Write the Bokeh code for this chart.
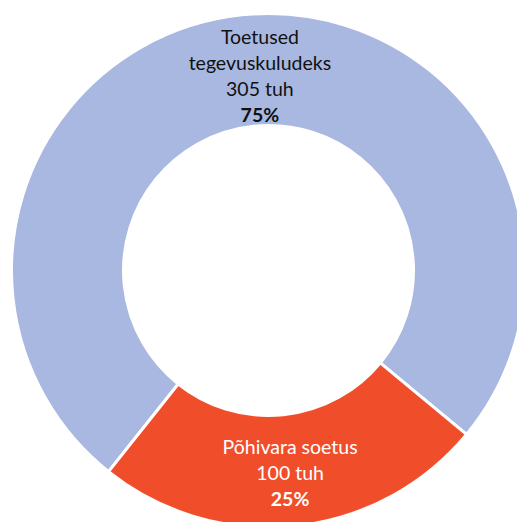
import math
from bokeh.plotting import figure
from bokeh.models import Range1d, ColumnDataSource
from bokeh.core.properties import value
from bokeh.embed import file_html
from bokeh.resources import INLINE

# ---- data ----
categories = ["Toetused\ntegevuskuludeks", "Põhivara soetus"]
values = [305, 100]
unit = "tuh"

# ---- style ----
colors = ["#A9B8E0", "#F04E2A"]
text_colors = ["#111111", "#FFFFFF"]
W, H = 517, 522
CX, CY = 268, H - 270
R_OUT, R_IN = 257, 145
START_DEG = 231.5
LABEL_R = 199
FONT = "Lato"
FS = 19.5
LINE_H = 26
label_dx = [12, 1]
label_dy = [2.5, 3.7]

total = sum(values)
fr = [v / total for v in values]
starts, ends, mids = [], [], []
cum = 0.0
for f in fr:
    a0 = START_DEG - (cum + f) * 360
    a1 = START_DEG - cum * 360
    starts.append(math.radians(a0))
    ends.append(math.radians(a1))
    mids.append(math.radians(START_DEG - (cum + f / 2) * 360))
    cum += f

p = figure(width=W, height=H, x_range=Range1d(0, W), y_range=Range1d(0, H),
           x_axis_type=None, y_axis_type=None, toolbar_location=None,
           output_backend="svg", min_border=0)
p.grid.visible = False
p.outline_line_color = None
p.background_fill_color = "white"
p.border_fill_color = "white"

src = ColumnDataSource(dict(x=[CX] * len(values), y=[CY] * len(values),
                            s=starts, e=ends, c=colors))
p.annular_wedge(x="x", y="y", inner_radius=R_IN, outer_radius=R_OUT,
                start_angle="s", end_angle="e", fill_color="c",
                line_color="white", line_width=3, source=src)

for i, (cat, v) in enumerate(zip(categories, values)):
    px = CX + LABEL_R * math.cos(mids[i])
    py = CY + LABEL_R * math.sin(mids[i])
    pct = f"{round(v / total * 100)}%"
    lines = cat.split("\n") + [f"{v} {unit}", pct]
    n = len(lines)
    for j, ln in enumerate(lines):
        y = py - (j - (n - 1) / 2) * LINE_H
        p.text(x=[px], y=[y], text=[ln], text_align="center",
               text_baseline="middle", text_font=value(FONT),
               text_font_size=f"{FS}px",
               text_font_style="bold" if j == n - 1 else "normal",
               text_color=text_colors[i],
               x_offset=label_dx[i], y_offset=label_dy[i])

open("out.html", "w").write(file_html(p, INLINE))
